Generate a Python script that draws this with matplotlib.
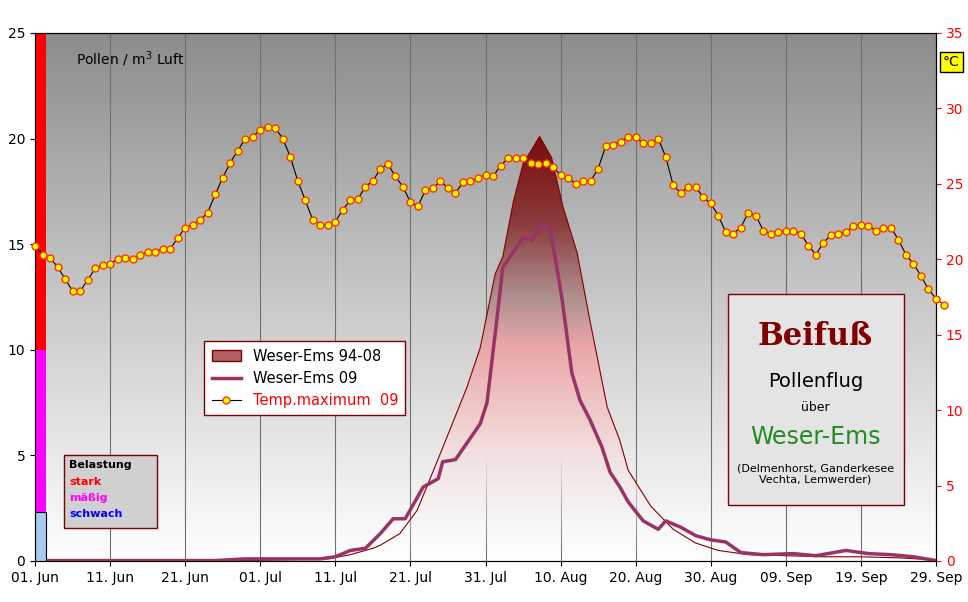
import numpy as np
import matplotlib.pyplot as plt
from matplotlib.colors import LinearSegmentedColormap
from matplotlib.lines import Line2D
from matplotlib.patches import Patch

# daily max temperature, 01 Jun .. 30 Sep 2009
temp = [20.9, 20.3, 20.1, 19.5, 18.7, 17.9, 17.9, 18.6, 19.4, 19.6, 19.7, 20.0, 20.1, 20.0, 20.3,
        20.5, 20.5, 20.7, 20.7, 21.4, 22.1, 22.3, 22.6, 23.1, 24.3, 25.4, 26.4, 27.2, 28.0, 28.1,
        28.6, 28.8, 28.7, 28.0, 26.8, 25.2, 23.9, 22.6, 22.3, 22.3, 22.5, 23.3, 23.9, 24.0, 24.8,
        25.2, 26.0, 26.3, 25.5, 24.8, 23.8, 23.5, 24.6, 24.7, 25.2, 24.7, 24.4, 25.1, 25.2, 25.4,
        25.6, 25.5, 26.2, 26.7, 26.7, 26.7, 26.4, 26.3, 26.4, 26.1, 25.6, 25.4, 25.0, 25.2, 25.2,
        26.0, 27.5, 27.6, 27.8, 28.1, 28.1, 27.7, 27.7, 28.0, 26.8, 24.9, 24.4, 24.8, 24.8, 24.1,
        23.7, 22.9, 21.8, 21.7, 22.1, 23.1, 22.9, 21.9, 21.7, 21.8, 21.9, 21.9, 21.7, 20.9, 20.3,
        21.1, 21.6, 21.7, 21.8, 22.2, 22.3, 22.2, 21.9, 22.1, 22.1, 21.3, 20.3, 19.7, 18.9, 18.0,
        17.4, 17.0]

# Weser-Ems 2009 pollen (day index from 01 Jun, pollen / m3)
p09_day = [0, 24, 28, 38, 40, 42, 44, 46, 47.7, 49.3, 51.7, 53.7, 54.3, 56, 59.3, 60.2, 61.5,
           62.3, 65, 66.2, 67.5, 68.6, 70.2, 71.5, 72.6, 73.9, 75.5, 76.6, 77.9, 79, 81, 83, 84,
           86, 88, 90, 92, 94, 97, 101, 104, 108, 111, 114, 117, 120]
p09_val = [0.02, 0.02, 0.1, 0.1, 0.2, 0.5, 0.6, 1.3, 2.0, 2.0, 3.5, 3.9, 4.7, 4.8, 6.5, 7.5, 11.4,
           13.9, 15.3, 15.2, 16.0, 15.8, 12.4, 8.9, 7.6, 6.7, 5.4, 4.2, 3.5, 2.8, 1.9, 1.5, 1.9,
           1.6, 1.2, 1.0, 0.9, 0.4, 0.3, 0.35, 0.25, 0.5, 0.35, 0.3, 0.2, 0.02]

# Weser-Ems 1994-2008 mean
pm_day = [0, 30, 39, 42, 45, 46, 48.6, 50.9, 54, 57.5, 59.3, 61.3, 62.3, 63.7, 65, 67.2, 68.8,
          70.3, 72.2, 73.9, 76.2, 77.9, 79, 82, 85, 88, 91, 95, 100, 105, 110, 115, 120]
pm_val = [0.0, 0.03, 0.1, 0.3, 0.6, 0.75, 1.3, 2.4, 5.1, 8.2, 10.1, 13.6, 14.4, 17.0, 18.8, 20.1,
          19.1, 16.8, 14.6, 11.4, 7.3, 5.7, 4.3, 2.6, 1.5, 0.85, 0.5, 0.3, 0.25, 0.2, 0.2, 0.15, 0.05]

tick_labels = ["01. Jun", "11. Jun", "21. Jun", "01. Jul", "11. Jul", "21. Jul", "31. Jul",
               "10. Aug", "20. Aug", "30. Aug", "09. Sep", "19. Sep", "29. Sep"]

fig = plt.figure(figsize=(9.68, 6.02), dpi=100)
ax = fig.add_axes([35 / 968, 41 / 602, 901 / 968, 528 / 602])
ax.set_xlim(0, 120)
ax.set_ylim(0, 25)

# background gradient
bg = LinearSegmentedColormap.from_list("bg", ["#ffffff", "#c8c8c8", "#8c8c8c"])
ax.imshow(np.linspace(0, 1, 256).reshape(-1, 1), cmap=bg, origin="lower", aspect="auto",
          extent=[0, 120, 0, 25], zorder=0)

for d in range(10, 120, 10):
    ax.axvline(d, color="#707070", lw=0.8, zorder=1)

# 94-08 area with vertical gradient
fillcm = LinearSegmentedColormap.from_list(
    "fill", [(0, "#ffffff00"), (0.25, "#f3e0e0"), (0.5, "#eaa8a8"), (0.62, "#b09090"),
             (0.8, "#8a3a3a"), (1.0, "#7a0c0c")])
poly = ax.fill_between(pm_day, pm_val, 0, color="none", zorder=2)
img = ax.imshow(np.linspace(0, 1, 256).reshape(-1, 1), cmap=fillcm, origin="lower",
                aspect="auto", extent=[0, 120, 0, 20.1], zorder=2)
img.set_clip_path(poly.get_paths()[0], transform=ax.transData)
ax.plot(pm_day, pm_val, color="#800000", lw=0.8, zorder=3)
ax.set_xlim(0, 120)
ax.set_ylim(0, 25)

ax.plot(p09_day, p09_val, color="#993366", lw=2.5, zorder=4)

# Belastung bar
ax.bar(0.75, 2.3, width=1.5, color="#a6caf0", edgecolor="black", lw=0.8, zorder=5)
ax.bar(0.75, 7.7, bottom=2.3, width=1.5, color="#ff00ff", zorder=5)
ax.bar(0.75, 15, bottom=10, width=1.5, color="#ff0000", zorder=5)

ax.set_xticks(range(0, 121, 10))
ax.set_xticklabels(tick_labels)
ax.set_yticks(range(0, 26, 5))
ax.tick_params(labelsize=10)

ax2 = ax.twinx()
ax2.set_ylim(0, 35)
ax2.set_yticks(range(0, 36, 5))
ax2.tick_params(colors="red", labelsize=10)
ax2.plot(range(len(temp)), temp, color="black", lw=0.8, marker="o", ms=5,
         mfc="#ffff00", mec="#ff3300", mew=1, clip_on=False, zorder=6)
ax2.set_xlim(0, 120)

fig.text(943 / 968, 540 / 602, "°C", fontsize=10, color="black", va="center",
         bbox=dict(facecolor="#ffff00", edgecolor="black", pad=2))
ax.text(0.046, 0.95, "Pollen / m$^3$ Luft", transform=ax.transAxes, fontsize=10, va="center")

# legend
h = [Patch(facecolor="#b06060", edgecolor="#800000"),
     Line2D([], [], color="#993366", lw=2.5),
     Line2D([], [], color="black", lw=0.8, marker="o", ms=5, mfc="#ffff00", mec="#ff3300")]
leg = ax.legend(h, ["Weser-Ems 94-08", "Weser-Ems 09", "Temp.maximum  09"],
                loc="upper left", bbox_to_anchor=(0.18, 0.43), fontsize=10.5, fancybox=False,
                framealpha=1, edgecolor="#800000", borderpad=0.5)
leg.get_texts()[2].set_color("red")
leg.set_zorder(10)

# Belastung box
bbox_b = plt.Rectangle((0.032, 0.062), 0.103, 0.139, transform=ax.transAxes,
                       facecolor="#d0d0d0", edgecolor="#800000", lw=1, zorder=9)
ax.add_patch(bbox_b)
for i, (s, c) in enumerate([("Belastung", "black"), ("stark", "red"), ("mäßig", "#ff00ff"),
                            ("schwach", "blue")]):
    ax.text(0.038, 0.181 - i * 0.0305, s, transform=ax.transAxes, fontsize=8,
            fontweight="bold", color=c, va="center", zorder=11)

# title box
box = plt.Rectangle((0.769, 0.106), 0.195, 0.4, transform=ax.transAxes, facecolor="#e4e4e4",
                    edgecolor="#800000", lw=1, zorder=9)
ax.add_patch(box)
cx = 0.866
ax.text(cx, 0.425, "Beifuß", transform=ax.transAxes, ha="center", va="center", fontsize=22,
        fontweight="bold", color="#800000", family="DejaVu Serif", zorder=10)
ax.text(cx, 0.34, "Pollenflug", transform=ax.transAxes, ha="center", va="center",
        fontsize=14, zorder=10)
ax.text(cx, 0.29, "über", transform=ax.transAxes, ha="center", va="center", fontsize=9,
        zorder=10)
ax.text(cx, 0.235, "Weser-Ems", transform=ax.transAxes, ha="center", va="center",
        fontsize=17, color="#228b22", zorder=10)
ax.text(cx, 0.165, "(Delmenhorst, Ganderkesee\nVechta, Lemwerder)", transform=ax.transAxes,
        ha="center", va="center", fontsize=8, zorder=10)

fig.savefig("out.png", dpi=100)
